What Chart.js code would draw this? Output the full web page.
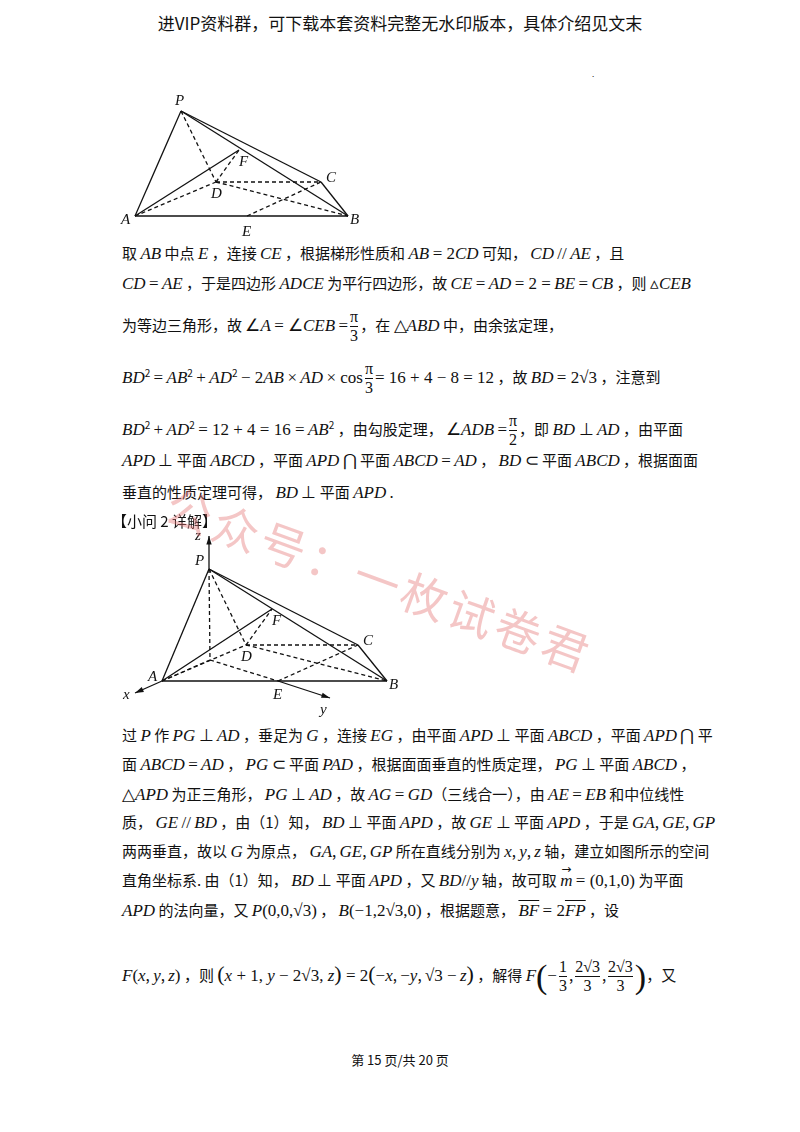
<!DOCTYPE html>
<html><head><meta charset="utf-8">
<script src="https://cdn.jsdelivr.net/npm/chart.js@4"></script>
<style>
body{margin:0;width:800px;height:1132px;background:#fff;position:relative;overflow:hidden;font-family:"Noto Sans CJK SC",serif;color:#111}
.l{position:absolute;left:122px;font-size:15px;white-space:nowrap;line-height:20px}
i,.m{font-family:"Liberation Serif",serif;font-size:17px}
.fr{display:inline-block;vertical-align:middle;text-align:center;font-family:"Liberation Serif",serif;font-size:16px;line-height:18px;margin:0 2px}
.fr span{display:block}.fr span:first-child{border-bottom:1px solid #111}
#hd{position:absolute;top:10px;width:800px;text-align:center;font-size:17px}
#ft{position:absolute;top:1050px;width:800px;text-align:center;font-size:13px}
#wm{position:absolute;left:180px;top:470px;font-size:46px;color:rgba(228,120,120,0.42);transform:rotate(20deg);transform-origin:left top;letter-spacing:4px;font-family:"Noto Sans CJK SC";white-space:nowrap}
canvas{position:absolute}
.vec{position:relative;display:inline-block}
.vec b{position:absolute;left:1px;top:-11px;font-size:12px;font-weight:normal;font-family:"DejaVu Sans"}
</style></head><body>
<div id="hd">进VIP资料群，可下载本套资料完整无水印版本，具体介绍见文末</div>
<div style="position:absolute;left:592px;top:68px;font-size:8px">.</div>
<div id="c1" style="position:absolute;left:110px;top:90px;width:260px;height:150px"><canvas id="fig1"></canvas></div>
<div id="c2" style="position:absolute;left:110px;top:530px;width:300px;height:190px"><canvas id="fig2"></canvas></div>

<div class="l" style="top:243px">取 <i>AB</i> 中点 <i>E</i> ，连接 <i>CE</i> ，根据梯形性质和 <i>AB</i> <span class="m">= 2</span><i>CD</i> 可知， <i>CD</i> <span class="m">//</span> <i>AE</i> ，且</div>
<div class="l" style="top:273px"><i>CD</i> <span class="m">=</span> <i>AE</i> ，于是四边形 <i>ADCE</i> 为平行四边形，故 <i>CE</i> <span class="m">=</span> <i>AD</i> <span class="m">= 2 =</span> <i>BE</i> <span class="m">=</span> <i>CB</i> ，则 <span class="m">▵</span><i>CEB</i></div>
<div class="l" style="top:308px">为等边三角形，故 <span class="m">∠</span><i>A</i> <span class="m">= ∠</span><i>CEB</i> <span class="m">=</span><span class="fr"><span>π</span><span>3</span></span>，在 <span class="m">△</span><i>ABD</i> 中，由余弦定理，</div>
<div class="l" style="top:360px"><i>BD</i><sup style="font-size:10px">2</sup> <span class="m">=</span> <i>AB</i><sup style="font-size:10px">2</sup> <span class="m">+</span> <i>AD</i><sup style="font-size:10px">2</sup> <span class="m">− 2</span><i>AB</i> <span class="m">×</span> <i>AD</i> <span class="m">× cos</span><span class="fr"><span>π</span><span>3</span></span><span class="m">= 16 + 4 − 8 = 12</span> ，故 <i>BD</i> <span class="m">= 2√3</span> ，注意到</div>
<div class="l" style="top:412px"><i>BD</i><sup style="font-size:10px">2</sup> <span class="m">+</span> <i>AD</i><sup style="font-size:10px">2</sup> <span class="m">= 12 + 4 = 16 =</span> <i>AB</i><sup style="font-size:10px">2</sup> ，由勾股定理， <span class="m">∠</span><i>ADB</i> <span class="m">=</span><span class="fr"><span>π</span><span>2</span></span>，即 <i>BD</i> <span class="m">⊥</span> <i>AD</i> ，由平面</div>
<div class="l" style="top:450px"><i>APD</i> <span class="m">⊥</span> 平面 <i>ABCD</i> ，平面 <i>APD</i> <span class="m">⋂</span> 平面 <i>ABCD</i> <span class="m">=</span> <i>AD</i> ， <i>BD</i> <span class="m">⊂</span> 平面 <i>ABCD</i> ，根据面面</div>
<div class="l" style="top:482px">垂直的性质定理可得， <i>BD</i> <span class="m">⊥</span> 平面 <i>APD</i> .</div>
<div class="l" style="top:511px;left:112px">【小问 2 详解】</div>

<div class="l" style="top:725px">过 <i>P</i> 作 <i>PG</i> <span class="m">⊥</span> <i>AD</i> ，垂足为 <i>G</i> ，连接 <i>EG</i> ，由平面 <i>APD</i> <span class="m">⊥</span> 平面 <i>ABCD</i> ，平面 <i>APD</i> <span class="m">⋂</span> 平</div>
<div class="l" style="top:754px">面 <i>ABCD</i> <span class="m">=</span> <i>AD</i> ， <i>PG</i> <span class="m">⊂</span> 平面 <i>PAD</i> ，根据面面垂直的性质定理， <i>PG</i> <span class="m">⊥</span> 平面 <i>ABCD</i> ，</div>
<div class="l" style="top:784px"><span class="m">△</span><i>APD</i> 为正三角形， <i>PG</i> <span class="m">⊥</span> <i>AD</i> ，故 <i>AG</i> <span class="m">=</span> <i>GD</i>（三线合一），由 <i>AE</i> <span class="m">=</span> <i>EB</i> 和中位线性</div>
<div class="l" style="top:812px">质， <i>GE</i> <span class="m">//</span> <i>BD</i> ，由（1）知， <i>BD</i> <span class="m">⊥</span> 平面 <i>APD</i> ，故 <i>GE</i> <span class="m">⊥</span> 平面 <i>APD</i> ，于是 <i>GA</i>, <i>GE</i>, <i>GP</i></div>
<div class="l" style="top:841px">两两垂直，故以 <i>G</i> 为原点， <i>GA</i>, <i>GE</i>, <i>GP</i> 所在直线分别为 <i>x</i>, <i>y</i>, <i>z</i> 轴，建立如图所示的空间</div>
<div class="l" style="top:870px">直角坐标系. 由（1）知， <i>BD</i> <span class="m">⊥</span> 平面 <i>APD</i> ，又 <i>BD</i><span class="m">//</span><i>y</i> 轴，故可取 <span class="vec"><i>m</i><b>→</b></span> <span class="m">= (0,1,0)</span> 为平面</div>
<div class="l" style="top:900px"><i>APD</i> 的法向量，又 <i>P</i><span class="m">(0,0,√3)</span> ， <i>B</i><span class="m">(−1,2√3,0)</span> ，根据题意， <span class="m" style="text-decoration:overline"><i>BF</i></span> <span class="m">= 2</span><span class="m" style="text-decoration:overline"><i>FP</i></span> ，设</div>
<div class="l" style="top:958px"><i>F</i><span class="m">(</span><i>x</i>, <i>y</i>, <i>z</i><span class="m">)</span> ，则 <span class="m" style="font-size:22px">(</span><i>x</i><span class="m"> + 1, </span><i>y</i><span class="m"> − 2√3, </span><i>z</i><span class="m" style="font-size:22px">)</span><span class="m"> = 2</span><span class="m" style="font-size:22px">(</span><span class="m">−</span><i>x</i>, <span class="m">−</span><i>y</i>, <span class="m">√3 −</span> <i>z</i><span class="m" style="font-size:22px">)</span> ，解得 <i>F</i><span class="m" style="font-size:34px;vertical-align:middle">(</span><span class="m">−</span><span class="fr"><span>1</span><span>3</span></span>,<span class="fr"><span>2√3</span><span>3</span></span>,<span class="fr"><span>2√3</span><span>3</span></span><span class="m" style="font-size:34px;vertical-align:middle">)</span>，又</div>

<div id="ft">第 15 页/共 20 页</div>
<div id="wm">公众号：一枚试卷君</div>

<script>
// figure 1 vertices (px inside figure box)
const fig1Points = {P:[71,21],A:[25,126],B:[238,126],C:[211,92],D:[106,92],E:[137,126],F:[129,60]};
const fig1Solid = ["PA","PB","PC","CB","AB","AF"];
const fig1Dashed = ["PD","AD","DC","DB","DF","EC"];
// figure 2 vertices
const fig2Points = {P:[99,39],A:[52,151],B:[277,151],C:[248,115],D:[136,115],E:[168,151],F:[162,79],G:[100,130],Z:[99,6],X:[25,163],Y:[220,168]};
const fig2Solid = ["PA","PB","PC","CB","AB","AF","PZ","AX","EY"];
const fig2Dashed = ["PG","PD","AD","DC","DB","DF","EC","GE","GA"];
const fig2Arrows = ["PZ","AX","EY"];

function drawFigure(id, w, h, pts, solid, dashed, arrows, labels) {
  const seg = (s, dash) => ({
    data: [{x: pts[s[0]][0], y: pts[s[0]][1]}, {x: pts[s[1]][0], y: pts[s[1]][1]}],
    showLine: true, borderColor: "#111", borderWidth: 1.3, pointRadius: 0,
    borderDash: dash ? [4, 3] : [], arrow: arrows.includes(s)
  });
  const arrowPlugin = {
    id: "arrows",
    afterDatasetsDraw(chart) {
      const c = chart.ctx, xs = chart.scales.x, ys = chart.scales.y;
      c.save();
      // arrowheads
      chart.data.datasets.forEach((d) => {
        if (!d.arrow) return;
        const x0 = xs.getPixelForValue(d.data[0].x), y0 = ys.getPixelForValue(d.data[0].y);
        const x1 = xs.getPixelForValue(d.data[1].x), y1 = ys.getPixelForValue(d.data[1].y);
        const a = Math.atan2(y1 - y0, x1 - x0);
        c.fillStyle = "#111";
        c.beginPath();
        c.moveTo(x1, y1);
        c.lineTo(x1 - 9 * Math.cos(a - 0.3), y1 - 9 * Math.sin(a - 0.3));
        c.lineTo(x1 - 9 * Math.cos(a + 0.3), y1 - 9 * Math.sin(a + 0.3));
        c.fill();
      });
      // vertex labels
      c.font = "italic 15px 'Liberation Serif'";
      c.fillStyle = "#111";
      labels.forEach(([t, k, dx, dy]) => {
        c.fillText(t, xs.getPixelForValue(pts[k][0]) + dx, ys.getPixelForValue(pts[k][1]) + dy);
      });
      c.restore();
    }
  };
  new Chart(document.getElementById(id), {
    type: "scatter",
    data: {datasets: solid.map((s) => seg(s, false)).concat(dashed.map((s) => seg(s, true)))},
    options: {
      responsive: true, maintainAspectRatio: false, animation: false,
      layout: {padding: 0},
      plugins: {legend: {display: false}, tooltip: {enabled: false}},
      scales: {
        x: {type: "linear", min: 0, max: w, display: false},
        y: {type: "linear", min: 0, max: h, reverse: true, display: false}
      }
    },
    plugins: [arrowPlugin]
  });
}

drawFigure("fig1", 260, 150, fig1Points, fig1Solid, fig1Dashed, [],
  [["P","P",-6,-6],["A","A",-14,8],["B","B",2,8],["C","C",5,0],["D","D",-5,16],["E","E",-5,20],["F","F",0,16]]);
drawFigure("fig2", 300, 190, fig2Points, fig2Solid, fig2Dashed, fig2Arrows,
  [["P","P",-14,-4],["A","A",-14,0],["B","B",2,8],["C","C",5,0],["D","D",-5,16],["E","E",-5,18],["F","F",0,16],["z","Z",-14,4],["x","X",-12,6],["y","Y",-10,16]]);
</script>
</body></html>
